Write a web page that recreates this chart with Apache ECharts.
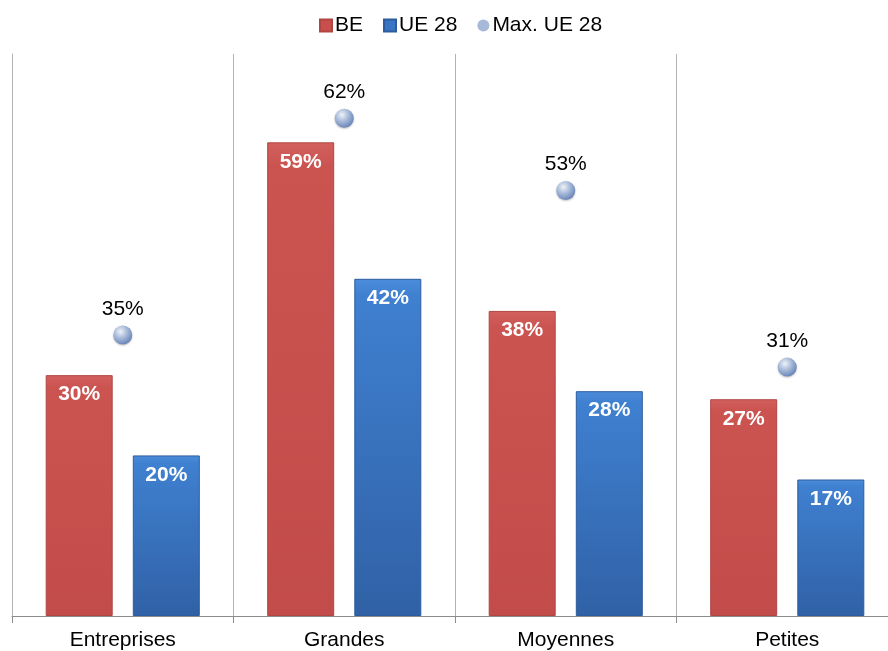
<!DOCTYPE html>
<html>
<head>
<meta charset="utf-8">
<script src="https://cdn.jsdelivr.net/npm/echarts@6/dist/echarts.min.js"></script>
<style>
  html, body { margin: 0; padding: 0; background: #ffffff; overflow: hidden; }
  #chart { width: 898px; height: 651px; }
</style>
</head>
<body>
<div id="chart"></div>
<script>
// Categories and values (percent)
const categories = ['Entreprises', 'Grandes', 'Moyennes', 'Petites'];
const beValues = [30, 59, 38, 27];
const ueValues = [20, 42, 28, 17];
const maxUeValues = [35, 62, 53, 31];

// The canvas is a little wider than the window so the last column runs off the right edge.
const chart = echarts.init(document.getElementById('chart'));

const redFill = new echarts.graphic.LinearGradient(0, 0, 0, 1, [
  { offset: 0, color: '#D2605D' },
  { offset: 0.05, color: '#CB5451' },
  { offset: 1, color: '#C24C49' }
]);
const blueFill = new echarts.graphic.LinearGradient(0, 0, 0, 1, [
  { offset: 0, color: '#4B8CDB' },
  { offset: 0.05, color: '#3F80D0' },
  { offset: 1, color: '#3061A6' }
]);
const sphereFill = new echarts.graphic.RadialGradient(0.38, 0.32, 0.7, [
  { offset: 0, color: '#EEF2F8' },
  { offset: 0.5, color: '#A6B9D8' },
  { offset: 1, color: '#6885B8' }
]);

const FONT = 'Liberation Sans, Arial, sans-serif';

const barLabel = {
  show: true,
  position: 'insideTop',
  distance: 9,
  color: '#ffffff',
  fontFamily: FONT,
  fontWeight: 'bold',
  fontSize: 21,
  formatter: p => p.value + '%'
};

chart.setOption({
  animation: false,
  backgroundColor: '#ffffff',
  textStyle: { fontFamily: FONT },
  legend: {
    top: 10,
    left: 314,
    itemWidth: 12,
    itemHeight: 12,
    itemGap: 20,
    textStyle: { fontSize: 21, color: '#000000', padding: [0, 0, 0, -2] },
    data: [
      { name: 'BE', icon: 'rect', itemStyle: { color: '#C94F4C' } },
      { name: 'UE 28', icon: 'rect', itemStyle: { color: '#3A75C4' } },
      { name: 'Max. UE 28', icon: 'circle', itemStyle: { color: '#A6B9D8', opacity: 1 } }
    ]
  },
  grid: { left: 12, right: 0, top: 54, bottom: 35, containLabel: false },
  xAxis: {
    type: 'category',
    data: categories,
    axisLine: { lineStyle: { color: '#8c8c8c', width: 1 } },
    axisTick: { show: true, length: 7, lineStyle: { color: '#8c8c8c' } },
    axisLabel: { fontSize: 21, color: '#000000', margin: 14 },
    splitLine: { show: true, lineStyle: { color: '#b4b4b4', width: 1 } }
  },
  yAxis: {
    type: 'value',
    min: 0,
    max: 70,
    interval: 10,
    axisLine: { show: true, lineStyle: { color: '#b4b4b4' } },
    axisTick: { show: false },
    axisLabel: { show: false },
    splitLine: { show: false }
  },
  series: [
    {
      name: 'BE',
      type: 'bar',
      data: beValues,
      barWidth: 67,
      barGap: '30%',
      itemStyle: { color: redFill, borderColor: '#B04643', borderWidth: 1 },
      label: barLabel
    },
    {
      name: 'UE 28',
      type: 'bar',
      data: ueValues,
      barWidth: 67,
      itemStyle: { color: blueFill, borderColor: '#2D5C9E', borderWidth: 1 },
      label: barLabel
    },
    {
      name: 'Max. UE 28',
      type: 'scatter',
      data: maxUeValues,
      symbol: 'circle',
      symbolSize: 19,
      z: 5,
      itemStyle: {
        color: sphereFill,
        opacity: 1,
        shadowColor: 'rgba(0,0,0,0.25)',
        shadowBlur: 2,
        shadowOffsetY: 1
      },
      label: {
        show: true,
        position: 'top',
        distance: 6,
        color: '#000000',
        fontFamily: FONT,
        fontSize: 21,
        formatter: p => p.value + '%'
      }
    }
  ]
});
</script>
</body>
</html>
